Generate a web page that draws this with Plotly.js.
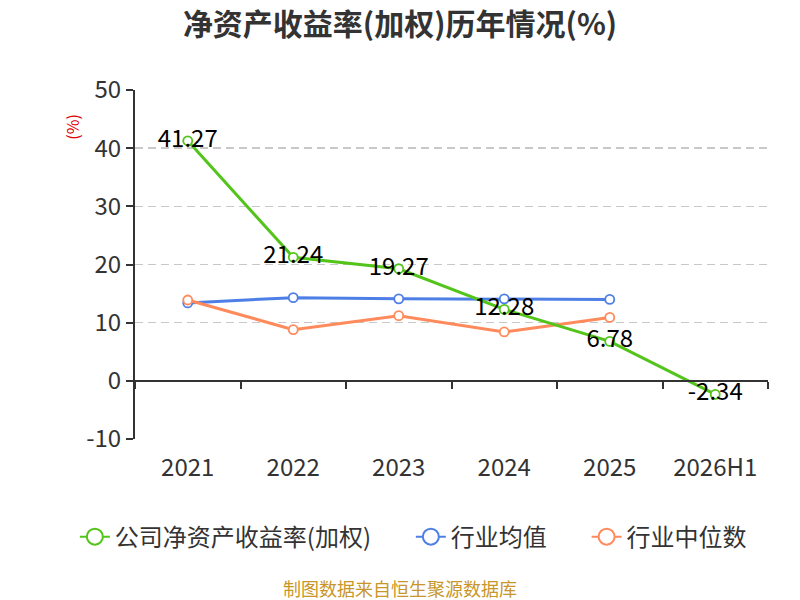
<!DOCTYPE html>
<html>
<head>
<meta charset="utf-8">
<script src="https://cdn.plot.ly/plotly-3.0.1.min.js"></script>
<style>
    body { margin: 0; background: #fff; }
    #chart { width: 800px; height: 600px; }
</style>
</head>
<body>
<div id="chart"></div>
<script>
// Категорії (роки) та ряди значень.
const years = ["2021", "2022", "2023", "2024", "2025", "2026H1"];
const companyRoe = [41.27, 21.24, 19.27, 12.28, 6.78, -2.34];
const industryAvg = [13.4, 14.3, 14.1, 14.1, 14.0, null];
const industryMedian = [13.9, 8.8, 11.2, 8.4, 10.9, null];

// Підписи осі y (зі звичайним мінусом, як на картинці).
const yTickVals = [-10, 0, 10, 20, 30, 40, 50];
const yTickText = ["-10", "0", "10", "20", "30", "40", "50"];

const seriesNames = ["公司净资产收益率(加权)", "行业均值", "行业中位数"];
const colors = ["#52c41a", "#4e7fe6", "#ff8a5b"];

const FONT = "'Noto Sans CJK SC', 'Noto Sans', sans-serif";
// Пробіли після назв у легенді, щоб розсунути пункти як на картинці.
const LEGEND_PAD = "\u3000\u00a0\u00a0";

// Одна лінія з порожніми кружечками.
const makeTrace = (y, i, withText) => ({
    x: years,
    y: y,
    name: seriesNames[i],
    type: "scatter",
    mode: withText ? "lines+markers+text" : "lines+markers",
    text: withText ? y.map((v) => v.toFixed(2)) : undefined,
    textposition: "middle center",
    textfont: { family: FONT, size: 24, color: "#000" },
    line: { color: colors[i], width: 3 },
    marker: {
        symbol: "circle",
        size: 9,
        color: "#fff",
        line: { color: colors[i], width: 1.8 },
    },
    showlegend: false,
    hoverinfo: "x+y",
});

// Окремі ряди лише для легенди (з великими кружечками).
const makeLegendTrace = (i) => ({
    x: [years[0]],
    y: [null],
    name: seriesNames[i] + (i < seriesNames.length - 1 ? LEGEND_PAD : ""),
    type: "scatter",
    mode: "lines+markers",
    line: { color: colors[i], width: 2 },
    marker: {
        symbol: "circle",
        size: 18,
        color: "#fff",
        line: { color: colors[i], width: 2 },
    },
    hoverinfo: "skip",
});

const traces = [
    makeTrace(industryAvg, 1, false),
    makeTrace(industryMedian, 2, false),
    makeTrace(companyRoe, 0, true),
    makeLegendTrace(0),
    makeLegendTrace(1),
    makeLegendTrace(2),
];

// Невидимий ряд для другої осі x (лінія на нулі з рисками між роками).
traces.push({
    x: years,
    y: years.map(() => null),
    xaxis: "x2",
    type: "scatter",
    mode: "lines",
    showlegend: false,
    hoverinfo: "skip",
});

const yMin = -10;
const yMax = 50;

const layout = {
    width: 800,
    height: 600,
    margin: { l: 135, r: 32, t: 90, b: 161 },
    paper_bgcolor: "#fff",
    plot_bgcolor: "#fff",
    font: { family: FONT, color: "#333" },
    title: {
        text: "<b>净资产收益率(加权)历年情况(%)</b>",
        x: 0.5,
        xanchor: "center",
        y: 0.96,
        yanchor: "middle",
        font: { family: FONT, size: 30, color: "#333" },
    },
    xaxis: {
        type: "category",
        range: [-0.5, 5.5],
        showline: false,
        showgrid: false,
        zeroline: false,
        ticks: "",
        ticklabelstandoff: 12,
        tickfont: { family: FONT, size: 24, color: "#333" },
        fixedrange: true,
    },
    xaxis2: {
        type: "category",
        range: [-0.5, 5.5],
        overlaying: "x",
        anchor: "free",
        position: (0 - yMin) / (yMax - yMin),
        side: "bottom",
        showline: true,
        linecolor: "#333",
        linewidth: 2,
        ticks: "outside",
        tickson: "boundaries",
        ticklen: 7,
        tickwidth: 2,
        tickcolor: "#333",
        showticklabels: false,
        showgrid: false,
        zeroline: false,
    },
    yaxis: {
        range: [yMin, yMax],
        tickmode: "array",
        tickvals: yTickVals,
        ticktext: yTickText,
        showline: true,
        linecolor: "#333",
        linewidth: 2,
        ticks: "outside",
        ticklen: 7,
        tickwidth: 2,
        tickcolor: "#333",
        showgrid: true,
        gridcolor: "#c8c8c8",
        griddash: "8px,5px",
        gridwidth: 1.5,
        zeroline: false,
        tickfont: { family: FONT, size: 24, color: "#333" },
        fixedrange: true,
    },
    legend: {
        orientation: "h",
        x: -0.095,
        xanchor: "left",
        y: -0.281,
        yanchor: "middle",
        font: { family: FONT, size: 24, color: "#333" },
        itemwidth: 30,
    },
    annotations: [
        {
            text: "(%)",
            xref: "paper",
            yref: "paper",
            x: -0.1,
            y: 0.894,
            xanchor: "center",
            yanchor: "middle",
            showarrow: false,
            textangle: -90,
            font: { family: FONT, size: 16, color: "#e00000" },
        },
        {
            // Підпис джерела по центру сторінки, а не області графіка.
            text: "制图数据来自恒生聚源数据库",
            xref: "paper",
            yref: "paper",
            x: (400 - 135) / 633,
            y: -0.428,
            xanchor: "center",
            yanchor: "middle",
            borderpad: 0,
            showarrow: false,
            font: { family: FONT, size: 18, color: "#c8962a" },
        },
    ],
    showlegend: true,
};

Plotly.newPlot("chart", traces, layout, { displayModeBar: false, staticPlot: true });
</script>
</body>
</html>
